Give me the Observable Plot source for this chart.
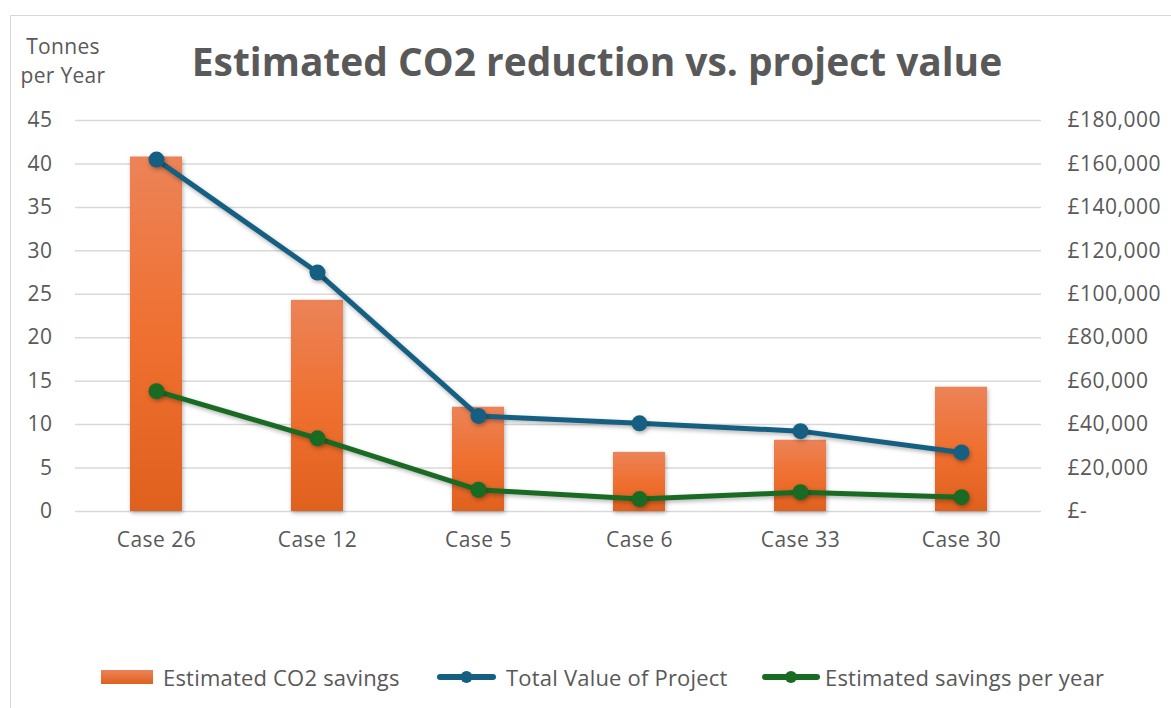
<!DOCTYPE html>
<html>
<head>
<meta charset="utf-8">
<script src="https://cdn.jsdelivr.net/npm/d3@7"></script>
<script src="https://cdn.jsdelivr.net/npm/@observablehq/plot@0.6"></script>
<style>
  html, body { margin: 0; padding: 0; background: #fff; }
  body { width: 1171px; height: 708px; overflow: hidden; position: relative; font-family: "Open Sans", sans-serif; color: #595959; }
  #frame { position: absolute; left: 10px; top: 15px; width: 1300px; height: 800px; border: 1.5px solid #d9d9d9; box-sizing: border-box; }
  #ylab { position: absolute; left: 13px; top: 32px; width: 100px; text-align: center; font-size: 21px; line-height: 29px; letter-spacing: 0.3px; }
  #title { position: absolute; left: 0; width: 1194px; top: 35px; text-align: center; font-size: 38.9px; font-weight: 700; line-height: 52px; }
  #chart { position: absolute; left: 0; top: 100px; }
  .leg { position: absolute; top: 663px; font-size: 22px; line-height: 28px; white-space: nowrap; letter-spacing: 0.2px; }
  .sw { position: absolute; }
</style>
</head>
<body>
<div id="frame"></div>
<div id="ylab">Tonnes<br>per Year</div>
<div id="title">Estimated CO2 reduction vs. project value</div>
<div id="chart"></div>
<div id="legend"></div>
<script>
const categories = ["Case 26", "Case 12", "Case 5", "Case 6", "Case 33", "Case 30"];
const co2Savings = [40.8, 24.3, 12.0, 6.8, 8.2, 14.3];          // tonnes per year (left axis)
const projectValue = [162000, 110000, 44000, 40600, 37000, 27200]; // £ (right axis)
const savingsPerYear = [55400, 33700, 10000, 5700, 8900, 6600];    // £ (right axis)
const leftTicks = [0, 5, 10, 15, 20, 25, 30, 35, 40, 45];
const rightTicks = [0, 20000, 40000, 60000, 80000, 100000, 120000, 140000, 160000, 180000];
const seriesNames = ["Estimated CO2 savings", "Total Value of Project", "Estimated savings per year"];
const colors = { bar: "#E97132", value: "#156082", savings: "#196B24" };

const ratio = rightTicks[rightTicks.length - 1] / leftTicks[leftTicks.length - 1];
const fmtPound = v => v === 0 ? "£-" : "£" + d3.format(",")(v);

const bars = categories.map((c, i) => ({ c, v: co2Savings[i] }));
const valueLine = categories.map((c, i) => ({ c, v: projectValue[i] / ratio }));
const savingsLine = categories.map((c, i) => ({ c, v: savingsPerYear[i] / ratio }));

const chart = Plot.plot({
  width: 1171,
  height: 461,
  marginTop: 20,
  marginBottom: 50,
  marginLeft: 75,
  marginRight: 130,
  style: { fontFamily: "Open Sans, sans-serif", fontSize: "21px", letterSpacing: "0.5px", color: "#595959", background: "transparent" },
  x: { type: "band", domain: categories, paddingInner: 0.68, paddingOuter: 0.34, label: null },
  y: { domain: [0, 45], label: null },
  marks: [
    Plot.ruleY(leftTicks, { stroke: "#d9d9d9", strokeWidth: 1.5 }),
    Plot.axisY(leftTicks, { anchor: "left", tickSize: 0, tickPadding: 23, label: null }),
    Plot.axisY(rightTicks.map(v => v / ratio), { anchor: "right", tickSize: 0, tickPadding: 26, textAnchor: "start", tickFormat: d => fmtPound(Math.round(d * ratio)), label: null }),
    Plot.axisX({ tickSize: 0, tickPadding: 21, label: null }),
    Plot.barY(bars, { x: "c", y: "v", fill: "url(#barGrad)" }),
    Plot.line(valueLine, { x: "c", y: "v", stroke: colors.value, strokeWidth: 5, strokeLinejoin: "round" }),
    Plot.dot(valueLine, { x: "c", y: "v", r: 8, fill: colors.value }),
    Plot.line(savingsLine, { x: "c", y: "v", stroke: colors.savings, strokeWidth: 5, strokeLinejoin: "round" }),
    Plot.dot(savingsLine, { x: "c", y: "v", r: 8, fill: colors.savings })
  ]
});

const defs = d3.select(chart).insert("defs", ":first-child");
const g = defs.append("linearGradient").attr("id", "barGrad").attr("x1", 0).attr("y1", 0).attr("x2", 0).attr("y2", 1);
g.append("stop").attr("offset", "0%").attr("stop-color", "#EC8358");
g.append("stop").attr("offset", "50%").attr("stop-color", "#EF7030");
g.append("stop").attr("offset", "100%").attr("stop-color", "#E0601E");
d3.select(chart).selectAll('g[aria-label="bar"], g[aria-label="line"], g[aria-label="dot"]')
  .style("filter", "drop-shadow(1.5px 2px 2px rgba(0,0,0,0.3))");
document.getElementById("chart").appendChild(chart);

// legend
const legend = document.getElementById("legend");
const items = [
  { type: "box", color: colors.bar, sx: 101, sw: 52, tx: 163, name: seriesNames[0] },
  { type: "line", color: colors.value, sx: 437, sw: 59, tx: 506, name: seriesNames[1] },
  { type: "line", color: colors.savings, sx: 762, sw: 58, tx: 825, name: seriesNames[2] }
];
items.forEach(it => {
  const ns = "http://www.w3.org/2000/svg";
  const s = document.createElementNS(ns, "svg");
  s.setAttribute("width", it.sw); s.setAttribute("height", 20);
  s.setAttribute("class", "sw");
  s.style.left = it.sx + "px"; s.style.top = "667px";
  if (it.type === "box") {
    const r = document.createElementNS(ns, "rect");
    r.setAttribute("x", 0); r.setAttribute("y", 3); r.setAttribute("width", it.sw); r.setAttribute("height", 14);
    r.setAttribute("fill", "url(#legGrad)");
    const d = document.createElementNS(ns, "defs");
    d.innerHTML = '<linearGradient id="legGrad" x1="0" y1="0" x2="0" y2="1"><stop offset="0%" stop-color="#EC8358"/><stop offset="100%" stop-color="#E0601E"/></linearGradient>';
    s.appendChild(d); s.appendChild(r);
  } else {
    const l = document.createElementNS(ns, "line");
    l.setAttribute("x1", 3); l.setAttribute("x2", it.sw - 3); l.setAttribute("y1", 10); l.setAttribute("y2", 10);
    l.setAttribute("stroke", it.color); l.setAttribute("stroke-width", 6); l.setAttribute("stroke-linecap", "round");
    const c = document.createElementNS(ns, "circle");
    c.setAttribute("cx", it.sw / 2); c.setAttribute("cy", 10); c.setAttribute("r", 6); c.setAttribute("fill", it.color);
    s.appendChild(l); s.appendChild(c);
  }
  legend.appendChild(s);
  const t = document.createElement("div");
  t.className = "leg"; t.style.left = it.tx + "px"; t.textContent = it.name;
  legend.appendChild(t);
});
</script>
</body>
</html>
